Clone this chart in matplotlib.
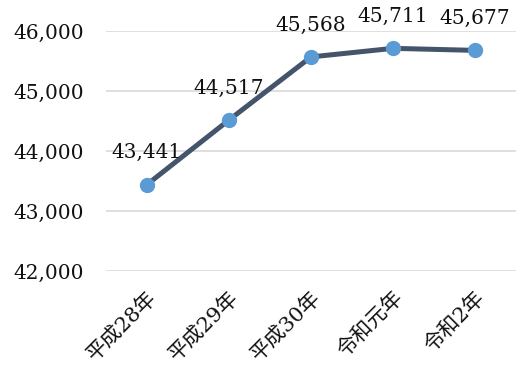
import matplotlib.pyplot as plt
from matplotlib.ticker import FuncFormatter

plt.rcParams['font.family'] = ['DejaVu Serif', 'Noto Sans CJK JP']

years = ['平成28年', '平成29年', '平成30年', '令和元年', '令和2年']
values = [43441, 44517, 45568, 45711, 45677]
y_ticks = [42000, 43000, 44000, 45000, 46000]

fig = plt.figure(figsize=(5.16, 3.74), dpi=100)
ax = fig.add_axes([0.2054, 0.2754, 0.7946, 0.6417])

x = range(len(years))
ax.plot(x, values, color='#44546A', linewidth=3.6, marker='o',
        markersize=10, markerfacecolor='#5B9BD5', markeredgecolor='#5B9BD5',
        zorder=3)

# data labels above each point
for i, v in enumerate(values):
    ax.annotate(f'{v:,}', (i, v), xytext=(0, 19), textcoords='offset points',
                ha='center', va='baseline', fontsize=14.5, color='#111111')

ax.set_xlim(-0.5, len(years) - 0.5)
ax.set_ylim(42000, 46000)
ax.set_yticks(y_ticks)
ax.yaxis.set_major_formatter(FuncFormatter(lambda v, p: f'{int(v):,}'))
ax.set_xticks(list(x))
ax.set_xticklabels(years, rotation=45, ha='right', rotation_mode='anchor',
                   fontsize=15)

ax.grid(axis='y', color='#D9D9D9', linewidth=1.2)
ax.set_axisbelow(True)
for s in ax.spines.values():
    s.set_visible(False)
ax.tick_params(axis='both', length=0, labelsize=14.5, colors='#111111')
ax.tick_params(axis='y', pad=16)
ax.tick_params(axis='x', pad=12, labelsize=15)

fig.savefig('out.png', dpi=100)
